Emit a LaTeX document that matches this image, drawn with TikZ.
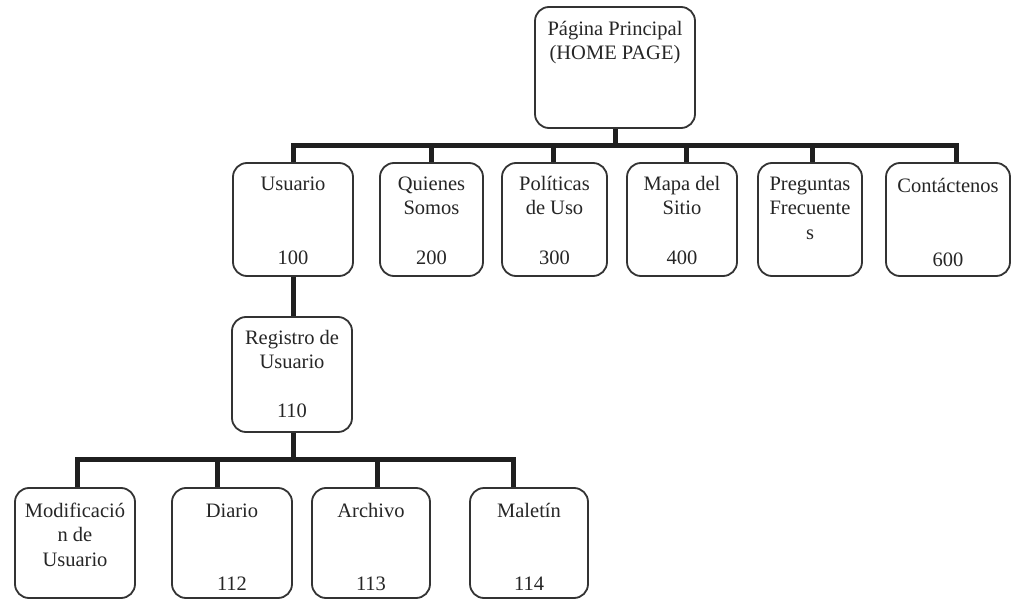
\documentclass[tikz,border=0pt]{standalone}
\usepackage{fontspec}
\setmainfont{Liberation Serif}
\pgfdeclarelayer{bg}
\pgfsetlayers{bg,main}
\tikzset{
  box/.style={draw=black!80, line width=1.8pt, rounded corners=14pt, fill=white,
              inner sep=0pt, outer sep=0pt, minimum height=113pt},
  txt/.style={anchor=north, align=center, inner sep=0pt, text=black!85,
              font=\fontsize{20.5}{24.7}\selectfont},
  conn/.style={draw=black!88, line width=5pt, line cap=rect}
}
\newcommand{\fl}{\rule{0pt}{15pt}}
\begin{document}
\begin{tikzpicture}[x=1pt,y=-1pt]
\useasboundingbox (0,0) rectangle (1013,602);
% boxes
\node[box, minimum width=160pt, minimum height=121pt] (home) at (615,67.5) {};
\node[box, minimum width=120pt] (usuario) at (293,219.5) {};
\node[box, minimum width=103pt] (quienes) at (431.5,219.5) {};
\node[box, minimum width=105pt] (politicas) at (554.5,219.5) {};
\node[box, minimum width=110pt] (mapa) at (682,219.5) {};
\node[box, minimum width=104pt] (preguntas) at (810,219.5) {};
\node[box, minimum width=124pt] (contactenos) at (948,219.5) {};
\node[box, minimum width=120pt, minimum height=115pt] (registro) at (292,374.5) {};
\node[box, minimum width=120pt, minimum height=110pt] (modif) at (75,543) {};
\node[box, minimum width=120pt, minimum height=110pt] (diario) at (232,543) {};
\node[box, minimum width=118pt, minimum height=110pt] (archivo) at (371,543) {};
\node[box, minimum width=118pt, minimum height=110pt] (maletin) at (529,543) {};
% texts
\node[txt] (home-t) at (615,20) {\fl Página Principal\\(HOME PAGE)};
\node[txt] (usuario-t) at (293,175) {\fl Usuario\\[49.4pt]100};
\node[txt] (quienes-t) at (431.5,175) {\fl Quienes\\Somos\\[24.7pt]200};
\node[txt] (politicas-t) at (554.5,175) {\fl Políticas\\de Uso\\[24.7pt]300};
\node[txt] (mapa-t) at (682,175) {\fl Mapa del\\Sitio\\[24.7pt]400};
\node[txt] (preguntas-t) at (810,175) {\fl Preguntas\\Frecuente\\s};
\node[txt] (contactenos-t) at (948,177) {\fl Contáctenos\\[49.4pt]600};
\node[txt] (registro-t) at (292,329) {\fl Registro de\\Usuario\\[24.3pt]110};
\node[txt] (modif-t) at (75,502) {\fl Modificació\\n de\\Usuario};
\node[txt] (diario-t) at (232,502) {\fl Diario\\[48.6pt]112};
\node[txt] (archivo-t) at (371,502) {\fl Archivo\\[48.6pt]113};
\node[txt] (maletin-t) at (529,502) {\fl Maletín\\[48.6pt]114};
% connectors
\coordinate (busA) at (615,145);
\coordinate (busB) at (293,459);
\begin{pgfonlayer}{bg}
\draw[conn] (home.south) -- (busA);
\draw[conn] (usuario.north) -- (usuario.north |- busA) -- ([xshift=8pt]contactenos.north |- busA);
\draw[conn] (quienes.north) -- (quienes.north |- busA);
\draw[conn] ([xshift=-1.5pt]politicas.north) -- ([xshift=-1.5pt]politicas.north |- busA);
\draw[conn] ([xshift=4pt]mapa.north) -- ([xshift=4pt]mapa.north |- busA);
\draw[conn] ([xshift=2pt]preguntas.north) -- ([xshift=2pt]preguntas.north |- busA);
\draw[conn] ([xshift=8pt]contactenos.north) -- ([xshift=8pt]contactenos.north |- busA);
\draw[conn] (usuario.south) -- (registro.north -| usuario.south);
\draw[conn] (registro.south -| usuario.south) -- (busB);
\draw[conn] ([xshift=2pt]modif.north) -- ([xshift=2pt]modif.north |- busB) -- ([xshift=-16pt]maletin.north |- busB);
\draw[conn] ([xshift=-15pt]diario.north) -- ([xshift=-15pt]diario.north |- busB);
\draw[conn] ([xshift=6pt]archivo.north) -- ([xshift=6pt]archivo.north |- busB);
\draw[conn] ([xshift=-16pt]maletin.north) -- ([xshift=-16pt]maletin.north |- busB);
\end{pgfonlayer}
\end{tikzpicture}
\end{document}
